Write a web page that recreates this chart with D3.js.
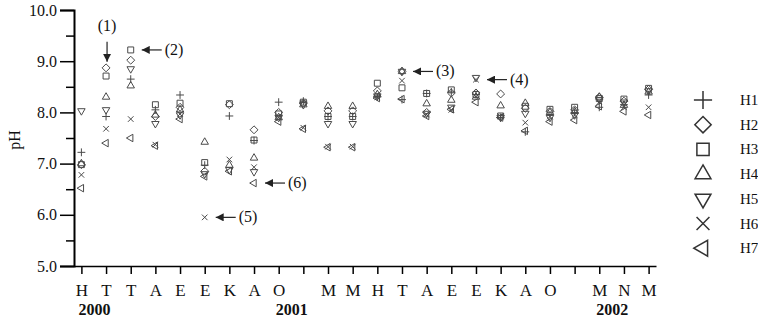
<!DOCTYPE html>
<html>
<head>
<meta charset="utf-8">
<script src="https://cdn.jsdelivr.net/npm/d3@7"></script>
<style>
  body { margin: 0; background: #fff; }
  svg text { font-family: "Liberation Serif", "Times New Roman", serif; fill: #111; }
</style>
</head>
<body>
<svg id="chart" width="758" height="320"></svg>
<script>
// month labels along the x axis (blank = no label)
let months = ["H","T","T","A","E","E","K","A","O","","M","M","H","T","A","E","E","K","A","O","","M","N","M"]
let years = [["2000", 0], ["2001", 8], ["2002", 21]]
let yTicks = [5, 6, 7, 8, 9, 10]
let yMinor = [5.5, 6.5, 7.5, 8.5, 9.5]

// pH per sampling site
let h1 = [7.22, 7.92, 8.65, 8.05, 8.34, 6.97, 7.93, 7.45, 8.20, 8.22, 7.92, 7.92, 8.30, 8.25, 8.37, 8.40, 8.35, 7.90, 7.62, 7.95, 8.00, 8.10, 8.15, 8.34]
let h2 = [6.98, 8.87, 9.02, 7.92, 8.10, 6.85, 8.15, 7.66, 8.00, 8.18, 8.03, 8.03, 8.42, 8.80, 8.00, 8.38, 8.38, 8.36, 8.08, 8.02, 8.05, 8.30, 8.22, 8.45]
let h3 = [6.98, 8.71, 9.22, 8.15, 8.18, 7.02, 8.17, 7.46, 7.97, 8.20, 7.92, 7.92, 8.57, 8.48, 8.37, 8.44, 8.35, 7.93, 8.12, 8.06, 8.10, 8.27, 8.26, 8.47]
let h4 = [7.00, 8.30, 8.52, 7.95, 8.05, 7.42, 6.97, 7.11, 7.90, 8.15, 8.12, 8.12, 8.35, 8.80, 8.17, 8.24, 8.30, 8.13, 8.18, 8.00, 8.02, 8.30, 8.14, 8.40]
let h5 = [8.03, 8.05, 8.85, 7.78, 7.95, 6.80, 6.88, 6.84, 7.90, 8.15, 7.78, 7.78, 8.32, 8.80, 7.98, 8.10, 8.68, 7.90, 7.98, 7.90, 7.95, 8.25, 8.20, 8.42]
let h6 = [6.78, 7.68, 7.87, 7.37, 7.97, 5.95, 7.08, 6.93, 7.90, 7.70, 7.33, 7.33, 8.30, 8.62, 7.96, 8.05, 8.64, 7.92, 7.80, 7.92, 7.95, 8.20, 8.10, 8.10]
let h7 = [6.52, 7.40, 7.50, 7.35, 7.87, 6.75, 6.85, 6.62, 7.82, 7.68, 7.32, 7.32, 8.28, 8.26, 7.93, 8.06, 8.20, 7.90, 7.64, 7.82, 7.85, 8.12, 8.02, 7.95]

let seriesNames = ["H1", "H2", "H3", "H4", "H5", "H6", "H7"]
let seriesValues = [h1, h2, h3, h4, h5, h6, h7]

// annotations: label, column, series index, arrow direction
let notes = [
    ["(1)", 1, 1, "down"],
    ["(2)", 2, 2, "left"],
    ["(3)", 13, 1, "left"],
    ["(4)", 16, 5, "left"],
    ["(5)", 5, 5, "left"],
    ["(6)", 7, 6, "left"]
]

let svg = d3.select("#chart")
let ink = "#4a4a4a"

let xScale = d3.scalePoint().domain(d3.range(months.length)).range([74, 656]).padding(0.3)
let yScale = d3.scaleLinear().domain([5, 10]).range([266, 10])

// symbol per series, with sizes for plot and legend
let shapes = [
    {type: d3.symbolPlus, rot: 0, size: 22, big: 110},
    {type: d3.symbolDiamond2, rot: 0, size: 40, big: 170},
    {type: d3.symbolSquare2, rot: 0, size: 45, big: 190},
    {type: d3.symbolTriangle2, rot: 0, size: 40, big: 180},
    {type: d3.symbolTriangle2, rot: 180, size: 40, big: 180},
    {type: d3.symbolTimes, rot: 0, size: 22, big: 110},
    {type: d3.symbolTriangle2, rot: -90, size: 40, big: 180}
]

// y axis, major and minor ticks
let yAxis = d3.axisLeft(yScale).tickValues(yTicks).tickSize(14).tickPadding(3).tickFormat(d3.format(".1f"))
let yg = svg.append("g").attr("transform", "translate(74,0)").call(yAxis)
yg.select(".domain").attr("stroke-width", 2)
yg.selectAll("text").style("font-size", "16px").attr("fill", "#111")
let yMinorAxis = d3.axisLeft(yScale).tickValues(yMinor).tickSize(8).tickFormat("").tickSizeOuter(0)
let ym = svg.append("g").attr("transform", "translate(74,0)").call(yMinorAxis)
ym.select(".domain").remove()
svg.selectAll(".tick line").attr("stroke-width", 1.5)

// x axis
let xAxis = d3.axisBottom(xScale).tickSize(8).tickSizeOuter(0).tickPadding(10).tickFormat(i => months[i])
let xg = svg.append("g").attr("transform", "translate(0,266)").call(xAxis)
xg.select(".domain").attr("stroke-width", 1.5)
xg.selectAll("line").attr("stroke-width", 1.5)
xg.selectAll("text").style("font-size", "17px").attr("fill", "#111")

// year labels
svg.selectAll(".year").data(years).enter().append("text")
    .attr("x", d => xScale(d[1]) - 3)
    .attr("y", 315)
    .style("font-size", "16px")
    .style("font-weight", "bold")
    .text(d => d[0])

// y label
svg.append("text")
    .attr("transform", "translate(20,140) rotate(-90)")
    .attr("text-anchor", "middle")
    .style("font-size", "16px")
    .text("pH")

// the points
seriesValues.forEach(function(vals, s) {
    let sym = d3.symbol().type(shapes[s].type).size(shapes[s].size)
    svg.append("g").selectAll("path")
        .data(vals)
        .enter().append("path")
        .attr("d", sym)
        .attr("transform", (d, i) => `translate(${xScale(i)},${yScale(d)}) rotate(${shapes[s].rot})`)
        .attr("fill", "none")
        .attr("stroke", ink)
        .attr("stroke-width", 1)
})

// arrow head marker
svg.append("defs").append("marker")
    .attr("id", "head")
    .attr("viewBox", "0 0 10 10")
    .attr("refX", 10).attr("refY", 5)
    .attr("markerWidth", 8).attr("markerHeight", 8)
    .attr("markerUnits", "userSpaceOnUse")
    .attr("orient", "auto")
    .append("path").attr("d", "M0,0L10,5L0,10Z").attr("fill", "#222")

// annotations
notes.forEach(function(n) {
    let px = xScale(n[1])
    let py = yScale(seriesValues[n[2]][n[1]])
    if (n[3] == "down") {
        svg.append("line")
            .attr("x1", px + 1).attr("y1", py - 26)
            .attr("x2", px + 1).attr("y2", py - 6)
            .attr("stroke", "#222").attr("stroke-width", 1.2)
            .attr("marker-end", "url(#head)")
        svg.append("text")
            .attr("x", px + 1).attr("y", py - 37)
            .attr("text-anchor", "middle")
            .style("font-size", "16px")
            .text(n[0])
    } else {
        svg.append("line")
            .attr("x1", px + 31).attr("y1", py)
            .attr("x2", px + 11).attr("y2", py)
            .attr("stroke", "#222").attr("stroke-width", 1.2)
            .attr("marker-end", "url(#head)")
        svg.append("text")
            .attr("x", px + 34).attr("y", py + 5)
            .style("font-size", "16px")
            .text(n[0])
    }
})

// legend
let legend = svg.append("g").selectAll("g")
    .data(seriesNames)
    .enter().append("g")
    .attr("transform", (d, i) => `translate(703,${100 + i * 24.7})`)
legend.append("path")
    .attr("d", (d, i) => d3.symbol().type(shapes[i].type).size(shapes[i].big)())
    .attr("transform", (d, i) => `rotate(${shapes[i].rot})`)
    .attr("fill", "none")
    .attr("stroke", "#333")
    .attr("stroke-width", 1.5)
legend.append("text")
    .attr("x", 37).attr("y", 5)
    .style("font-size", "15px")
    .text(d => d)
</script>
</body>
</html>
